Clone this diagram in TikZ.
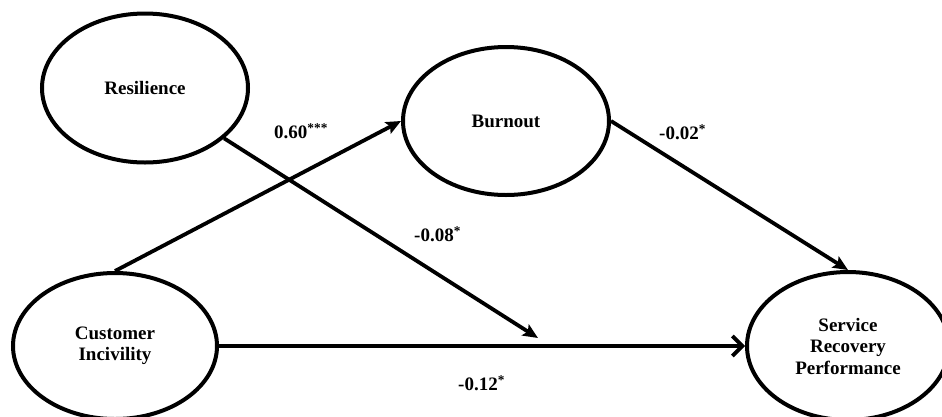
\documentclass[tikz,border=0pt]{standalone}
\usepackage{fontspec}
\setmainfont{Liberation Serif}
\usetikzlibrary{shapes.geometric,arrows.meta}
\begin{document}
\begin{tikzpicture}[x=1pt,y=-1pt,
  latent/.style={ellipse,draw,line width=4pt,inner sep=0pt,align=center,
    font=\fontsize{19}{21.5}\selectfont\bfseries},
  path/.style={line width=3.8pt,-{Stealth[length=15pt,width=13pt,inset=3pt]}},
  pathopen/.style={line width=3.8pt,-{Straight Barb[length=10pt,width=20pt,line width=3.8pt]}},
  coef/.style={font=\fontsize{19}{22}\selectfont\bfseries,inner sep=0pt,anchor=west}]
\clip (0,0) rectangle (942,416);
\useasboundingbox (0,0) rectangle (942,416);
\fill[white] (0,0) rectangle (942,416);
\node[latent,minimum width=206pt,minimum height=149pt] (res) at (145,88) {Resilience};
\node[latent,minimum width=206pt,minimum height=148pt] (bur) at (506,121) {Burnout};
\node[latent,minimum width=204pt,minimum height=146pt] (ci) at (115,346) {Customer\\Incivility};
\node[latent,minimum width=202pt,minimum height=148pt] (srp) at (848,346) {Service\\Recovery\\Performance};
\coordinate (m) at (538,338);
\draw[path] (ci.north) -- (bur.west);
\draw[path] (bur.east) -- (srp.north);
\draw[path] (res) -- (m);
\draw[pathopen] (ci.east) -- (srp.west);
\node[coef] (c1) at (274,131) {0.60\textsuperscript{***}};
\node[coef] (c2) at (659,132) {-0.02\textsuperscript{*}};
\node[coef] (c3) at (414,234) {-0.08\textsuperscript{*}};
\node[coef] (c4) at (458,383) {-0.12\textsuperscript{*}};
\end{tikzpicture}
\end{document}
